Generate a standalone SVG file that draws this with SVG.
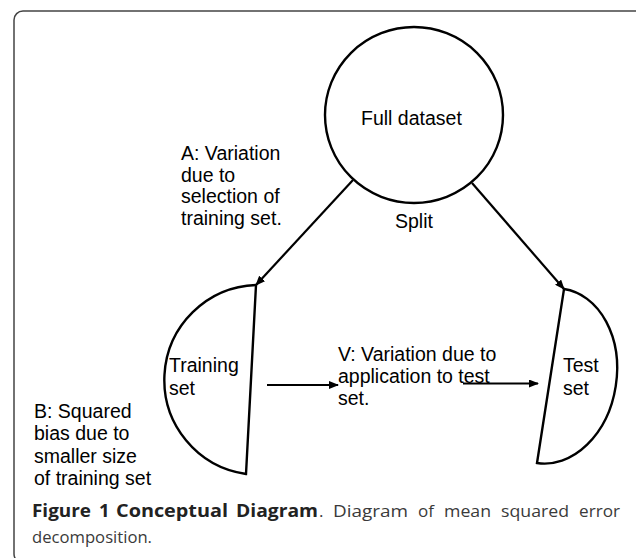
<svg xmlns="http://www.w3.org/2000/svg" width="636" height="558" viewBox="0 0 636 558">
  <style>
    .lbl { font-family: "Liberation Sans", Arial, sans-serif; font-size: 19.5px; fill: #000; }
    .shape { fill: #fff; stroke: #000; stroke-width: 2.4; }
    .conn { stroke: #000; stroke-width: 2.2; fill: none; }
    .cap { font-family: "Open Sans", "Noto Sans", sans-serif; font-size: 17px; fill: #3a3a3a; }
    .capb { font-family: "Open Sans", "Noto Sans", sans-serif; font-size: 18.5px; font-weight: bold; fill: #222; }
  </style>
  <defs>
    <marker id="arr" markerUnits="userSpaceOnUse" markerWidth="10" markerHeight="8" refX="9" refY="4" orient="auto">
      <path d="M0,0 L10,4 L0,8 Z" fill="#000"/>
    </marker>
  </defs>
  <rect x="0" y="0" width="636" height="558" fill="#fff"/>
  <rect id="frame" x="14" y="11" width="650" height="552" rx="9" ry="9" fill="none" stroke="#444" stroke-width="1.5"/>

  <g id="full-dataset">
    <ellipse class="shape" cx="414" cy="115" rx="89" ry="88"/>
    <text class="lbl" x="361" y="125">Full dataset</text>
  </g>

  <g id="training-set">
    <path class="shape" d="M256,285 A95,95 0 0 0 246,474 Z"/>
    <text class="lbl" x="169" y="372">Training</text>
    <text class="lbl" x="169" y="395">set</text>
  </g>

  <g id="test-set">
    <path class="shape" d="M564,289 A88,66 -81.2 0 1 537,463 Z"/>
    <text class="lbl" x="563" y="372">Test</text>
    <text class="lbl" x="563" y="395">set</text>
  </g>

  <g id="connectors">
    <line class="conn" x1="353" y1="180" x2="256" y2="285" marker-end="url(#arr)"/>
    <line class="conn" x1="472" y1="183" x2="564" y2="289" marker-end="url(#arr)"/>
    <line class="conn" x1="267" y1="385" x2="338" y2="385" marker-end="url(#arr)"/>
    <line class="conn" x1="463" y1="383.5" x2="538" y2="383.5" marker-end="url(#arr)"/>
  </g>

  <g id="label-split">
    <text class="lbl" x="395" y="228">Split</text>
  </g>

  <g id="label-a">
    <text class="lbl" x="181" y="160">A: Variation</text>
    <text class="lbl" x="181" y="181.5">due to</text>
    <text class="lbl" x="181" y="203">selection of</text>
    <text class="lbl" x="181" y="224.5">training set.</text>
  </g>

  <g id="label-v">
    <text class="lbl" x="338" y="361">V: Variation due to</text>
    <text class="lbl" x="338" y="383">application to test</text>
    <text class="lbl" x="338" y="405">set.</text>
  </g>

  <g id="label-b">
    <text class="lbl" x="34" y="418">B: Squared</text>
    <text class="lbl" x="34" y="440">bias due to</text>
    <text class="lbl" x="34" y="462.5">smaller size</text>
    <text class="lbl" x="34" y="485">of training set</text>
  </g>

  <g id="caption">
    <text class="capb" x="32" y="517" textLength="59" lengthAdjust="spacingAndGlyphs">Figure</text>
    <text class="capb" x="99" y="517">1</text>
    <text class="capb" x="116" y="517" textLength="112" lengthAdjust="spacingAndGlyphs">Conceptual</text>
    <text class="capb" x="236" y="517" textLength="82" lengthAdjust="spacingAndGlyphs">Diagram</text>
    <text class="cap" x="319" y="517">.</text>
    <text class="cap" x="333" y="517" textLength="75" lengthAdjust="spacingAndGlyphs">Diagram</text>
    <text class="cap" x="418" y="517">of</text>
    <text class="cap" x="444" y="517" textLength="47" lengthAdjust="spacingAndGlyphs">mean</text>
    <text class="cap" x="501" y="517" textLength="68" lengthAdjust="spacingAndGlyphs">squared</text>
    <text class="cap" x="579" y="517" textLength="41" lengthAdjust="spacingAndGlyphs">error</text>
    <text class="cap" x="32" y="543" textLength="120" lengthAdjust="spacingAndGlyphs">decomposition.</text>
  </g>
</svg>
